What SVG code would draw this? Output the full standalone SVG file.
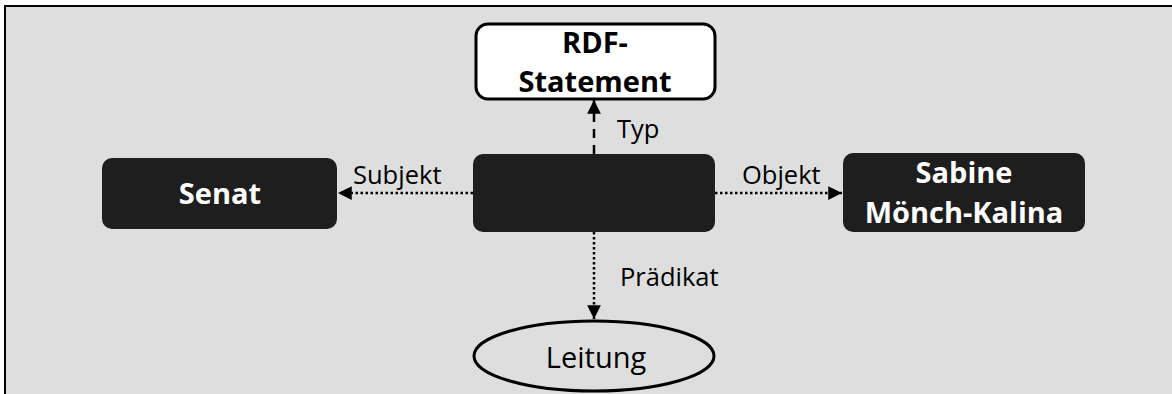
<svg xmlns="http://www.w3.org/2000/svg" width="1172" height="394" viewBox="0 0 1172 394">
<defs>
<marker id="ah" viewBox="0 0 10 10" refX="10" refY="5" markerWidth="6" markerHeight="5.5" markerUnits="strokeWidth" orient="auto">
<path d="M0,0 L10,5 L0,10 z" fill="#000"/>
</marker>
<style>
.dark{fill:#1e1e1e;stroke:none}
.bt{font-family:"Open Sans",sans-serif;font-weight:bold;font-size:29px;fill:#fff;text-anchor:middle}
.lbl{font-family:"Open Sans",sans-serif;font-size:25.5px;fill:#000}
.dot{stroke:#000;stroke-width:2.5;stroke-dasharray:2.5 2.5;fill:none}
.dash{stroke:#000;stroke-width:2.5;stroke-dasharray:9 7;fill:none}
</style>
</defs>
<rect x="0" y="0" width="1172" height="394" fill="#fff"/>
<rect x="5" y="6" width="1180" height="400" fill="#dedede" stroke="#000" stroke-width="2"/>
<g id="connectors">
<line class="dot" x1="473" y1="193" x2="338" y2="193" marker-end="url(#ah)"/>
<line class="dot" x1="715" y1="193" x2="842" y2="193" marker-end="url(#ah)"/>
<line class="dash" x1="594" y1="154" x2="594" y2="100" marker-end="url(#ah)"/>
<line class="dot" x1="594" y1="232" x2="594" y2="319" marker-end="url(#ah)"/>
<text class="lbl" x="353" y="184">Subjekt</text>
<text class="lbl" x="742" y="184">Objekt</text>
<text class="lbl" x="617" y="138">Typ</text>
<text class="lbl" x="620" y="286">Prädikat</text>
</g>
<g id="rdf">
<rect x="476" y="24" width="239" height="75" rx="12" fill="#fff" stroke="#000" stroke-width="3"/>
<text class="bt" x="595" y="53" style="fill:#000">RDF-</text>
<text class="bt" x="595" y="92" style="fill:#000">Statement</text>
</g>
<g id="senat">
<rect class="dark" x="102" y="158" width="235" height="71" rx="10"/>
<text class="bt" x="220" y="204">Senat</text>
</g>
<g id="statement">
<rect class="dark" x="473" y="154" width="242" height="78" rx="10"/>
</g>
<g id="sabine">
<rect class="dark" x="843" y="153" width="242" height="79" rx="10"/>
<text class="bt" x="964" y="183">Sabine</text>
<text class="bt" x="964" y="223">Mönch-Kalina</text>
</g>
<g id="leitung">
<ellipse cx="594" cy="356" rx="120" ry="35" fill="#dedede" stroke="#000" stroke-width="3"/>
<text x="596" y="368" font-family="Open Sans, sans-serif" font-size="29" text-anchor="middle" fill="#000">Leitung</text>
</g>
</svg>
